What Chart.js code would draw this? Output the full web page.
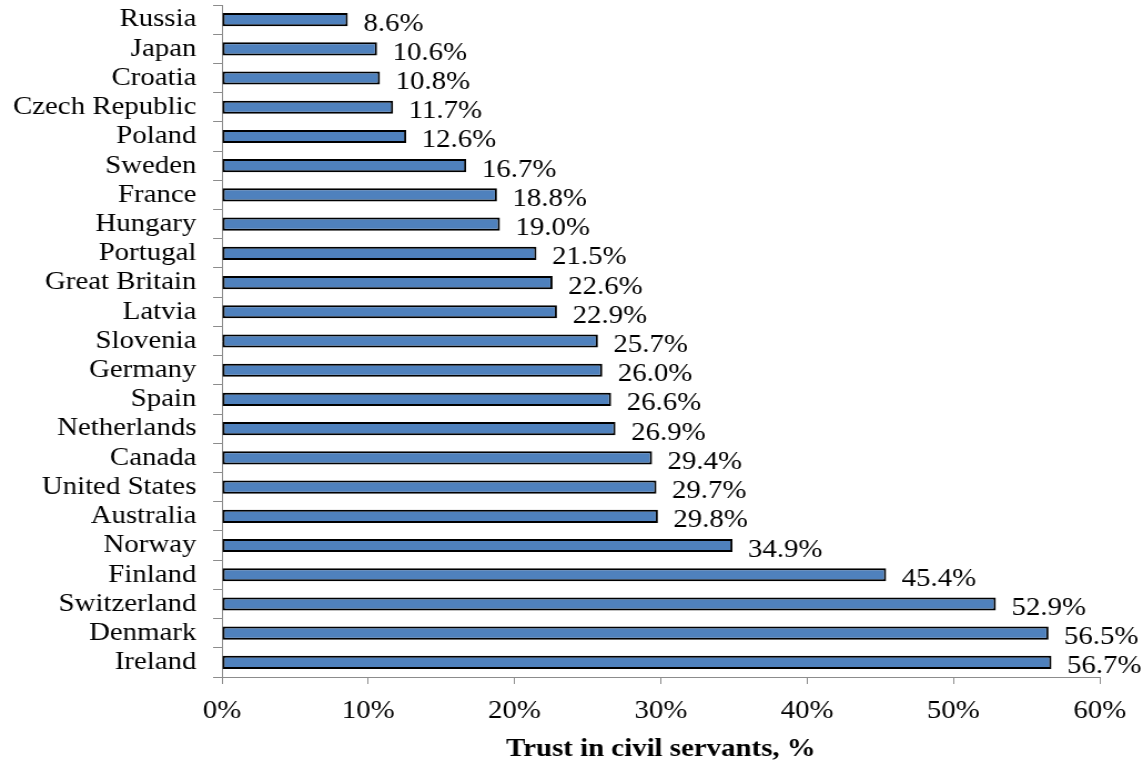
<!DOCTYPE html>
<html>
<head>
<meta charset="utf-8">
<title>Trust in civil servants</title>
<script src="https://cdn.jsdelivr.net/npm/chart.js@4/dist/chart.umd.min.js"></script>
<style>
    html, body { margin: 0; padding: 0; background: #ffffff; }
    #wrap { width: 1143px; height: 771px; overflow: hidden; background: #ffffff; }
    /* chart is laid out a bit narrower and stretched sideways to the full width */
    #chart { display: block; width: 1030px; height: 771px; transform: scaleX(1.1097); transform-origin: 0 0; }
</style>
</head>
<body>
<div id="wrap"><canvas id="chart" width="1030" height="771"></canvas></div>
<script>
const countries = [
    'Russia', 'Japan', 'Croatia', 'Czech Republic', 'Poland', 'Sweden', 'France',
    'Hungary', 'Portugal', 'Great Britain', 'Latvia', 'Slovenia', 'Germany', 'Spain',
    'Netherlands', 'Canada', 'United States', 'Australia', 'Norway', 'Finland',
    'Switzerland', 'Denmark', 'Ireland'
];
const trustValues = [
    8.6, 10.6, 10.8, 11.7, 12.6, 16.7, 18.8,
    19.0, 21.5, 22.6, 22.9, 25.7, 26.0, 26.6,
    26.9, 29.4, 29.7, 29.8, 34.9, 45.4,
    52.9, 56.5, 56.7
];
const xTicks = [0, 10, 20, 30, 40, 50, 60];
const axisTitle = 'Trust in civil servants, %';

const serif = "'Liberation Serif', 'Times New Roman', serif";
const axisGray = '#8c8c8c';
const fontSize = 26;

// value labels to the right of each bar
const valueLabels = {
    id: 'valueLabels',
    afterDatasetsDraw(chart) {
        const ctx = chart.ctx;
        const meta = chart.getDatasetMeta(0);
        ctx.save();
        ctx.font = fontSize + 'px ' + serif;
        ctx.fillStyle = '#000000';
        ctx.textAlign = 'left';
        ctx.textBaseline = 'alphabetic';
        meta.data.forEach((bar, i) => {
            ctx.fillText(trustValues[i].toFixed(1) + '%', bar.x + 14, bar.y + 11);
        });
        ctx.restore();
    }
};

const ctx = document.getElementById('chart').getContext('2d');
new Chart(ctx, {
    type: 'bar',
    data: {
        labels: countries,
        datasets: [{
            data: trustValues,
            backgroundColor: '#4f81bd',
            borderColor: '#000000',
            borderWidth: 2,
            borderSkipped: false,
            categoryPercentage: 1,
            barPercentage: 0.45
        }]
    },
    options: {
        indexAxis: 'y',
        responsive: false,
        animation: false,
        devicePixelRatio: 1,
        layout: { padding: { top: 5, right: 39, left: 0, bottom: 0 } },
        plugins: {
            legend: { display: false },
            tooltip: { enabled: false },
            title: { display: false }
        },
        scales: {
            x: {
                min: 0,
                max: 60,
                afterBuildTicks: scale => { scale.ticks = xTicks.map(v => ({ value: v })); },
                afterFit: scale => { scale.height = 94; },
                ticks: {
                    color: '#000000',
                    font: { family: serif, size: fontSize },
                    padding: 12,
                    callback: v => v + '%'
                },
                grid: {
                    drawOnChartArea: false,
                    drawTicks: true,
                    tickLength: 7,
                    color: axisGray
                },
                border: { display: true, color: axisGray, width: 1 },
                title: {
                    display: true,
                    text: axisTitle,
                    color: '#000000',
                    font: { family: serif, size: fontSize, weight: 'bold' },
                    padding: { top: 0, bottom: 6 }
                }
            },
            y: {
                afterFit: scale => {
                    scale.width = 200;
                    // categories sit inside their bands, no extra room above/below
                    scale.paddingTop = 0;
                    scale.paddingBottom = 0;
                },
                ticks: {
                    color: '#000000',
                    font: { family: serif, size: fontSize },
                    padding: 15,
                    autoSkip: false
                },
                grid: {
                    offset: true,
                    drawOnChartArea: false,
                    drawTicks: true,
                    tickLength: 8,
                    color: axisGray
                },
                border: { display: true, color: axisGray, width: 1 }
            }
        }
    },
    plugins: [valueLabels]
});
</script>
</body>
</html>
